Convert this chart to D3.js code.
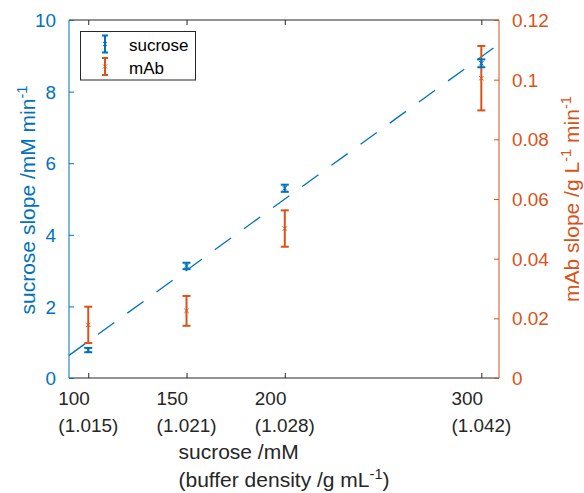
<!DOCTYPE html>
<html>
<head>
<meta charset="utf-8">
<script src="https://cdn.jsdelivr.net/npm/d3@7"></script>
<style>
  html, body { margin: 0; padding: 0; background: #fff; }
  svg { display: block; font-family: Arial, "Liberation Sans", Helvetica, sans-serif; }
</style>
</head>
<body>
<svg id="chart" width="584" height="493"></svg>
<script>
// Sucrose concentrations (mM) and the matching buffer densities (g/mL)
const concentrations = [100, 150, 200, 300];
const densities = ["(1.015)", "(1.021)", "(1.028)", "(1.042)"];

// Sucrose sedimentation slope (mM/min) with error
const sucroseSlope = [0.78, 3.13, 5.30, 8.79];
const sucroseErr = [0.06, 0.09, 0.10, 0.11];

// mAb sedimentation slope (g/L/min) with error
const mAbSlope = [0.0178, 0.0225, 0.0501, 0.1005];
const mAbErr = [0.0061, 0.0050, 0.0061, 0.0108];

// Axis limits and ticks
const xLimits = [90.2, 309];
const leftLimits = [0, 10];
const rightLimits = [0, 0.12];
const leftTicks = [0, 2, 4, 6, 8, 10];
const rightTicks = [0, 0.02, 0.04, 0.06, 0.08, 0.1, 0.12];

const BLUE = "#0072BD";
const ORANGE = "#D95319";
const GRAY = "#262626";
const TICK_FONT = 18.9;
const LABEL_FONT = 21;
const LEGEND_FONT = 17;

const plot = { left: 69, right: 499, top: 20, bottom: 378 };

const svg = d3.select("#chart");

const x = d3.scaleLinear().domain(xLimits).range([plot.left, plot.right]);
const yL = d3.scaleLinear().domain(leftLimits).range([plot.bottom, plot.top]);
const yR = d3.scaleLinear().domain(rightLimits).range([plot.bottom, plot.top]);

// ---- axes ----
const tickLen = 5;

// bottom axis (ticks inward), labels drawn separately as two-line blocks
const bottomAxis = svg.append("g")
  .attr("transform", `translate(0,${plot.bottom})`)
  .call(d3.axisBottom(x).tickValues(concentrations).tickSize(-tickLen).tickFormat(""));
bottomAxis.select(".domain").attr("stroke", GRAY).attr("d", `M${plot.left},0H${plot.right}`);
bottomAxis.selectAll(".tick line").attr("stroke", GRAY);
bottomAxis.selectAll(".tick text").remove();

// top frame line with inward ticks
const topAxis = svg.append("g")
  .attr("transform", `translate(0,${plot.top})`)
  .call(d3.axisTop(x).tickValues(concentrations).tickSize(-tickLen).tickFormat(""));
topAxis.select(".domain").attr("stroke", GRAY).attr("d", `M${plot.left},0H${plot.right}`);
topAxis.selectAll(".tick line").attr("stroke", GRAY);
topAxis.selectAll(".tick text").remove();

// left axis (sucrose)
const leftAxis = svg.append("g")
  .attr("transform", `translate(${plot.left},0)`)
  .call(d3.axisLeft(yL).tickValues(leftTicks).tickSize(-tickLen).tickPadding(13).tickFormat(d3.format("d")));
leftAxis.select(".domain").attr("stroke", BLUE).attr("d", `M0,${plot.top}V${plot.bottom}`);
leftAxis.selectAll(".tick line").attr("stroke", BLUE);
leftAxis.selectAll(".tick text")
  .attr("fill", BLUE).attr("font-size", TICK_FONT).attr("font-family", null);

// right axis (mAb)
const rightAxis = svg.append("g")
  .attr("transform", `translate(${plot.right},0)`)
  .call(d3.axisRight(yR).tickValues(rightTicks).tickSize(-tickLen).tickPadding(13).tickFormat(d => String(+d.toFixed(2))));
rightAxis.select(".domain").attr("stroke", ORANGE).attr("d", `M0,${plot.top}V${plot.bottom}`);
rightAxis.selectAll(".tick line").attr("stroke", ORANGE);
rightAxis.selectAll(".tick text")
  .attr("fill", ORANGE).attr("font-size", TICK_FONT).attr("font-family", null);

svg.selectAll(".tick text").attr("dy", "0.35em");

// two-line x tick labels: left-aligned lines, block centred on the tick
concentrations.forEach((c, i) => {
  const g = svg.append("g").attr("transform", `translate(${x(c)},0)`);
  const lines = [String(c), densities[i]];
  const texts = lines.map((s, k) =>
    g.append("text").attr("y", 405 + k * 27).attr("font-size", TICK_FONT)
      .attr("fill", GRAY).text(s));
  const w = d3.max(texts, t => t.node().getComputedTextLength());
  texts.forEach(t => t.attr("x", -w / 2));
});

// ---- dashed least-squares fit through sucrose slopes ----
const mx = d3.mean(concentrations), my = d3.mean(sucroseSlope);
const sxy = d3.sum(concentrations, (c, i) => (c - mx) * (sucroseSlope[i] - my));
const sxx = d3.sum(concentrations, c => (c - mx) * (c - mx));
const slope = sxy / sxx, intercept = my - slope * mx;
const fitLine = d3.line().x(d => x(d)).y(d => yL(intercept + slope * d));
svg.append("path")
  .attr("d", fitLine(xLimits))
  .attr("fill", "none").attr("stroke", BLUE).attr("stroke-width", 1.3)
  .attr("stroke-dasharray", "20,16");

// ---- error bars ----
function errorBars(values, errs, yScale, color) {
  const g = svg.append("g").attr("stroke", color).attr("fill", "none");
  const cap = 4;
  values.forEach((v, i) => {
    const cx = x(concentrations[i]);
    const y1 = yScale(v + errs[i]), y0 = yScale(v - errs[i]), yc = yScale(v);
    g.append("line").attr("x1", cx).attr("x2", cx).attr("y1", y1).attr("y2", y0).attr("stroke-width", 2);
    g.append("line").attr("x1", cx - cap).attr("x2", cx + cap).attr("y1", y1).attr("y2", y1).attr("stroke-width", 2);
    g.append("line").attr("x1", cx - cap).attr("x2", cx + cap).attr("y1", y0).attr("y2", y0).attr("stroke-width", 2);
    const m = 2.2;
    g.append("path").attr("d", `M${cx - m},${yc - m}L${cx + m},${yc + m}M${cx - m},${yc + m}L${cx + m},${yc - m}`)
      .attr("stroke-width", 1);
  });
}
errorBars(mAbSlope, mAbErr, yR, ORANGE);
errorBars(sucroseSlope, sucroseErr, yL, BLUE);

// ---- axis labels (plain runs and raised "-1" exponents) ----
function superLabel(sel, parts) {
  let raised = false;
  parts.forEach(([txt, sup]) => {
    const t = sel.append("tspan").text(txt);
    if (sup) {
      t.attr("dy", -8).attr("font-size", LABEL_FONT * 0.7);
      raised = true;
    } else if (raised) {
      t.attr("dy", 8);
      raised = false;
    }
  });
}

const yLabelL = svg.append("text")
  .attr("transform", "translate(35,200) rotate(-90)")
  .attr("text-anchor", "middle").attr("font-size", LABEL_FONT).attr("fill", BLUE);
superLabel(yLabelL, [["sucrose slope /mM min"], ["-1", true]]);

const yLabelR = svg.append("text")
  .attr("transform", "translate(579,199) rotate(-90)")
  .attr("text-anchor", "middle").attr("font-size", LABEL_FONT).attr("fill", ORANGE);
superLabel(yLabelR, [["mAb slope /g L"], ["-1", true], [" min"], ["-1", true]]);

// x label: two left-aligned lines, block centred under the plot
const xl = svg.append("g").attr("transform", `translate(${(plot.left + plot.right) / 2},0)`);
const xl1 = xl.append("text").attr("y", 459).attr("font-size", LABEL_FONT).attr("fill", GRAY);
superLabel(xl1, [["sucrose /mM"]]);
const xl2 = xl.append("text").attr("y", 487).attr("font-size", LABEL_FONT).attr("fill", GRAY);
superLabel(xl2, [["(buffer density /g mL"], ["-1", true], [")"]]);
const xw = Math.max(xl1.node().getComputedTextLength(), xl2.node().getComputedTextLength());
xl1.attr("x", -xw / 2); xl2.attr("x", -xw / 2);

// ---- legend ----
const legend = svg.append("g");
legend.append("rect")
  .attr("x", 80.5).attr("y", 31.5).attr("width", 115).attr("height", 48.5)
  .attr("fill", "#fff").attr("stroke", GRAY).attr("stroke-width", 1);
const legendItems = [
  { name: "sucrose", color: BLUE, cy: 44 },
  { name: "mAb", color: ORANGE, cy: 66.5 }
];
legendItems.forEach(it => {
  const g = legend.append("g").attr("stroke", it.color);
  const cx = 105, h = 8.5, cap = 3;
  g.append("line").attr("x1", cx).attr("x2", cx).attr("y1", it.cy - h).attr("y2", it.cy + h).attr("stroke-width", 2);
  g.append("line").attr("x1", cx - cap).attr("x2", cx + cap).attr("y1", it.cy - h).attr("y2", it.cy - h).attr("stroke-width", 2);
  g.append("line").attr("x1", cx - cap).attr("x2", cx + cap).attr("y1", it.cy + h).attr("y2", it.cy + h).attr("stroke-width", 2);
  const m = 2;
  g.append("path").attr("d", `M${cx - m},${it.cy - m}L${cx + m},${it.cy + m}M${cx - m},${it.cy + m}L${cx + m},${it.cy - m}`)
    .attr("stroke-width", 1);
  legend.append("text").attr("x", 129).attr("y", it.cy + 7)
    .attr("font-size", LEGEND_FONT).attr("fill", "#000").text(it.name);
});
</script>
</body>
</html>
